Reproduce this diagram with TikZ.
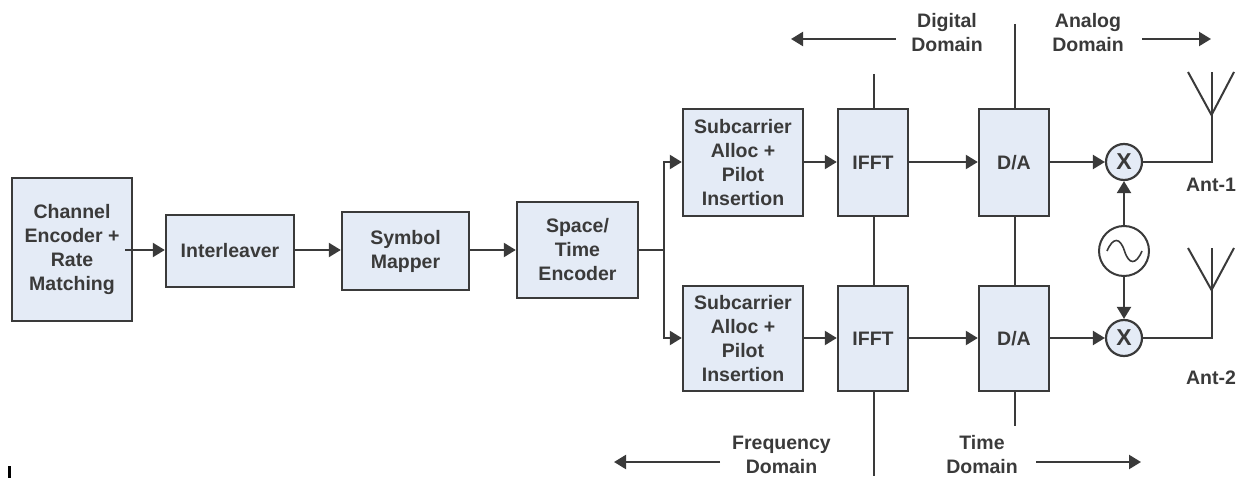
\documentclass[tikz,border=0pt]{standalone}
\usepackage{fontspec}
\setmainfont{Liberation Sans}
\usetikzlibrary{arrows.meta}
\definecolor{boxfill}{HTML}{E4EBF6}
\definecolor{ink}{HTML}{3A3A3A}
\tikzset{
  blk/.style={draw=ink,fill=boxfill,line width=2.4pt,inner sep=0pt,align=center,text=ink,
    font=\fontsize{19.5}{24}\selectfont\bfseries},
  mix/.style={circle,draw=ink,fill=boxfill,line width=2.2pt,inner sep=0pt,minimum size=36pt,text=ink,
    font=\fontsize{23}{24}\selectfont\bfseries},
  osc/.style={circle,draw=ink,fill=white,line width=2pt,inner sep=0pt,minimum size=50pt},
  lbl/.style={align=center,inner sep=0pt,text=ink,font=\fontsize{19.5}{24}\selectfont\bfseries},
  conn/.style={draw=ink,line width=2.2pt,-{Triangle[length=12pt,width=14pt]}},
  wire/.style={draw=ink,line width=2pt},
  thin wire/.style={draw=ink,line width=1.6pt}
}
\begin{document}
\begin{tikzpicture}[x=1pt,y=-1pt]
\useasboundingbox (0,0) rectangle (1241,478);
\coordinate (rowA) at (0,250);
\coordinate (rowT) at (0,162);
\coordinate (rowB) at (0,338);
\node[blk,minimum width=120pt,minimum height=143pt] (ce) at (72,249.5) {Channel\\Encoder +\\Rate\\Matching};
\node[blk,minimum width=128pt,minimum height=72pt] (il) at (230,251) {Interleaver};
\node[blk,minimum width=127pt,minimum height=78pt] (sm) at (405.5,251) {Symbol\\Mapper};
\node[blk,minimum width=121pt,minimum height=96pt] (st) at (577.5,250) {Space/\\Time\\Encoder};
\node[blk,minimum width=120pt,minimum height=107pt] (sc1) at (743,162.5) {Subcarrier\\Alloc +\\Pilot\\Insertion};
\node[blk,minimum width=120pt,minimum height=105pt] (sc2) at (743,338.5) {Subcarrier\\Alloc +\\Pilot\\Insertion};
\node[blk,minimum width=70pt,minimum height=107pt] (if1) at (873,162.5) {IFFT};
\node[blk,minimum width=70pt,minimum height=105pt] (if2) at (873,338.5) {IFFT};
\node[blk,minimum width=70pt,minimum height=107pt] (da1) at (1014,162.5) {D/A};
\node[blk,minimum width=70pt,minimum height=105pt] (da2) at (1014,338.5) {D/A};
\node[mix] (m1) at (1124,162) {X};
\node[mix] (m2) at (1124,338) {X};
\node[osc] (lo) at (1124,251) {};
\draw[ink,line width=1.6pt] (1107,251) .. controls (1113,237) and (1120,237) .. (1124.5,251) .. controls (1129,265) and (1136,265) .. (1142,251);

% chain
\draw[conn] ([xshift=-8pt]ce.east |- rowA) -- (il.west |- rowA);
\draw[conn] (il.east |- rowA) -- (sm.west |- rowA);
\draw[conn] (sm.east |- rowA) -- (st.west |- rowA);
\coordinate (fork) at (664,250);
\draw[conn] (st.east |- rowA) -- (fork) |- (sc1.west |- rowT);
\draw[conn] (fork) |- (sc2.west |- rowB);
\draw[conn] (sc1.east |- rowT) -- (if1.west |- rowT);
\draw[conn] (sc2.east |- rowB) -- (if2.west |- rowB);
\draw[conn] (if1.east |- rowT) -- (da1.west |- rowT);
\draw[conn] (if2.east |- rowB) -- (da2.west |- rowB);
\draw[conn] (da1.east |- rowT) -- (m1.west);
\draw[conn] (da2.east |- rowB) -- (m2.west);
\draw[conn] (lo.north) -- (m1.south);
\draw[conn] (lo.south) -- (m2.north);

% domain separators
\coordinate (ifT) at (874,74);
\coordinate (ifB) at (874,476);
\coordinate (daT) at (1015,24);
\coordinate (daB) at (1015,426);
\draw[thin wire] (ifT) -- (if1.north -| ifT);
\draw[thin wire] (if1.south -| ifT) -- (if2.north -| ifT);
\draw[thin wire] (if2.south -| ifT) -- (ifB);
\draw[thin wire] (daT) -- (da1.north -| daT);
\draw[thin wire] (da1.south -| daT) -- (da2.north -| daT);
\draw[thin wire] (da2.south -| daT) -- (daB);

% antennas
\coordinate (a1) at (1211.5,115);
\coordinate (a1T) at (1211.5,72);
\coordinate (a1L) at (1188,72);
\coordinate (a1R) at (1234,72);
\draw[wire] (m1.east) -- (a1 |- m1.east) -- (a1T);
\draw[wire] (a1L) -- (a1) -- (a1R);
\coordinate (a2) at (1211.5,290);
\coordinate (a2T) at (1211.5,248);
\coordinate (a2L) at (1188,248);
\coordinate (a2R) at (1234,248);
\draw[wire] (m2.east) -- (a2 |- m2.east) -- (a2T);
\draw[wire] (a2L) -- (a2) -- (a2R);
\node[lbl] (ant1) at (1211,185) {Ant-1};
\node[lbl] (ant2) at (1211,378) {Ant-2};

% domain labels and arrows
\node[lbl] (dd) at (947,32.5) {Digital\\Domain};
\node[lbl] (ad) at (1088,32.5) {Analog\\Domain};
\node[lbl] (fd) at (781.5,454.5) {Frequency\\Domain};
\node[lbl] (td) at (982,454.5) {Time\\Domain};
\coordinate (ddS) at (896,39); \coordinate (ddE) at (791,39);
\coordinate (adS) at (1142,39); \coordinate (adE) at (1211,39);
\coordinate (fdS) at (720,462); \coordinate (fdE) at (614,462);
\coordinate (tdS) at (1036,462); \coordinate (tdE) at (1141,462);
\draw[conn] (ddS) -- (ddE);
\draw[conn] (adS) -- (adE);
\draw[conn] (fdS) -- (fdE);
\draw[conn] (tdS) -- (tdE);

% stray mark at the lower left edge
\coordinate (markT) at (9,466); \coordinate (markB) at (9,478);
\draw[black,line width=3pt] (markT) -- (markB);
\end{tikzpicture}
\end{document}
